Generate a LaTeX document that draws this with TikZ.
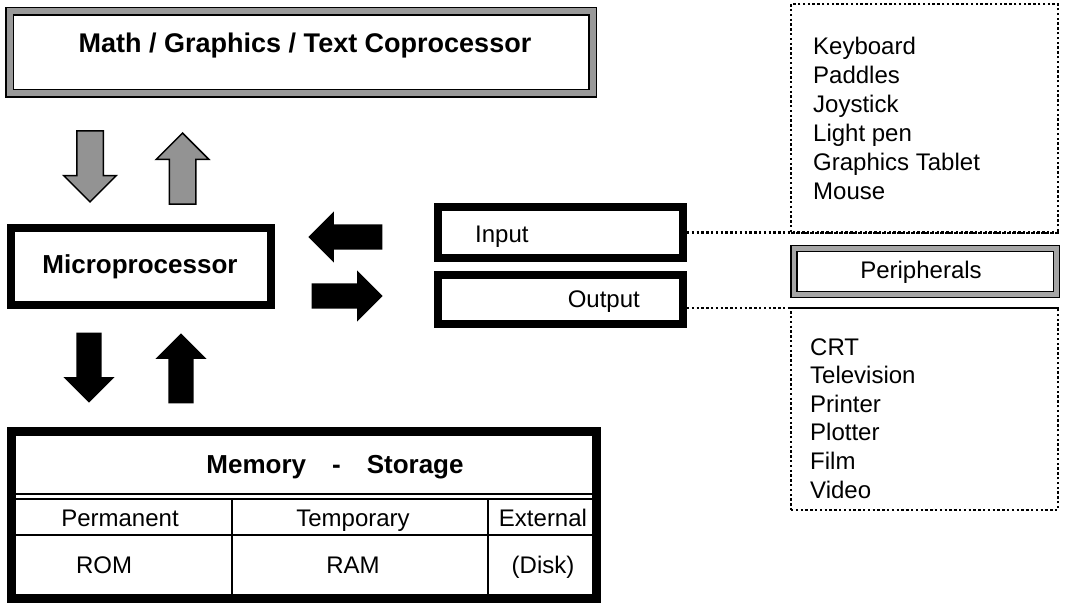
\documentclass[tikz,border=0pt]{standalone}
\usepackage{fontspec}
\setmainfont{Liberation Sans}
\usetikzlibrary{shapes.arrows}
\begin{document}
\begin{tikzpicture}[x=1pt,y=-1pt,
	txt/.style={font=\fontsize{24}{28}\selectfont,inner sep=0pt},
	btxt/.style={font=\fontsize{26}{30}\selectfont\bfseries,inner sep=0pt},
	frame/.style={draw,line width=8pt,inner sep=0pt},
	dframe/.style={draw,line width=1.5pt,double=gray!80,double distance=6pt,inner sep=0pt},
	dotbox/.style={draw,line width=2.4pt,dash pattern=on 2.4pt off 2.4pt,inner sep=0pt},
	dots/.style={line width=2.4pt,dash pattern=on 2.4pt off 2.4pt},
	fat/.style={single arrow,anchor=tip,inner sep=0pt,inner ysep=12.5pt,single arrow head extend=13pt,minimum width=51pt},
	garrow/.style={fat,draw=black,line width=1.5pt,fill=gray!85},
	barrow/.style={fat,fill=black}]
	\useasboundingbox (0,0) rectangle (1066,604);
	% peripheral groups
	\node[dotbox,minimum width=267,minimum height=229] (inbox) at (924.5,118.5) {};
	\node[dotbox,minimum width=267,minimum height=202] (outbox) at (924.5,409) {};
	% boxes
	\node[dframe,minimum width=583,minimum height=82] (math) at (301,52.5) {};
	\node[btxt,anchor=base,font=\fontsize{27}{31}\selectfont\bfseries] (mathtext) at (305,53) {Math / Graphics / Text Coprocessor};
	\node[frame,minimum width=260,minimum height=77] (cpu) at (141,266.5) {};
	\node[btxt,anchor=base] (cputext) at (140,273) {Microprocessor};
	\node[frame,minimum width=245,minimum height=51] (input) at (560.5,232.5) {};
	\node[txt,anchor=base west] (inputtext) at (475,243) {Input};
	\node[frame,minimum width=245,minimum height=49] (output) at (560.5,299.5) {};
	\node[txt,anchor=base east] (outputtext) at (640,307) {Output};
	\node[dframe,double=gray!70,double distance=4.5pt,minimum width=262.5,minimum height=45.5] (peri) at (925,271.5) {};
	\node[txt,anchor=base] (peritext) at (921,279) {Peripherals};
	% connectors to the groups
	\draw[dots] (input.east) -- (input.east -| inbox.east);
	\draw[dots] ([yshift=-8.5pt]output.east) -- ([yshift=-8.5pt]output.east -| outbox.east);
	% lists
	\foreach \t [count=\i] in {Keyboard,Paddles,Joystick,Light pen,Graphics Tablet,Mouse}
		\node[txt,anchor=base west] (in\i) at (813,{55+29*(\i-1)}) {\t};
	\foreach \t [count=\i] in {CRT,Television,Printer,Plotter,Film,Video}
		\node[txt,anchor=base west] (out\i) at (810,{355+28.6*(\i-1)}) {\t};
	% arrows
	\node[garrow,rotate=-90,minimum height=71] (gdown) at (90,203) {};
	\node[garrow,rotate=90,minimum height=71] (gup) at (182.5,132) {};
	\node[barrow,rotate=180,minimum height=74] (toleft) at (308,237) {};
	\node[barrow,minimum height=71] (toright) at (383,296) {};
	\node[barrow,rotate=-90,minimum height=70] (bdown) at (89,403) {};
	\node[barrow,rotate=90,minimum height=70] (bup) at (181,333) {};
	% memory table
	\node[frame,line width=9pt,minimum width=585,minimum height=167] (mem) at (304,515) {};
	\draw[line width=1.5pt] (16,494) -- (592,494) (16,499) -- (592,499);
	\draw[line width=2pt] (16,535) -- (592,535) (232,499) -- (232,594) (488,499) -- (488,594);
	\node[btxt,anchor=base] (memtext) at (335,473) {Memory\quad-\quad Storage};
	\node[txt,anchor=base] (perm) at (120,526) {Permanent};
	\node[txt,anchor=base] (temp) at (353,526) {Temporary};
	\node[txt,anchor=base] (ext) at (543,526) {External};
	\node[txt,anchor=base] (rom) at (104,573) {ROM};
	\node[txt,anchor=base] (ram) at (353,573) {RAM};
	\node[txt,anchor=base] (disk) at (543,573) {(Disk)};
\end{tikzpicture}
\end{document}
